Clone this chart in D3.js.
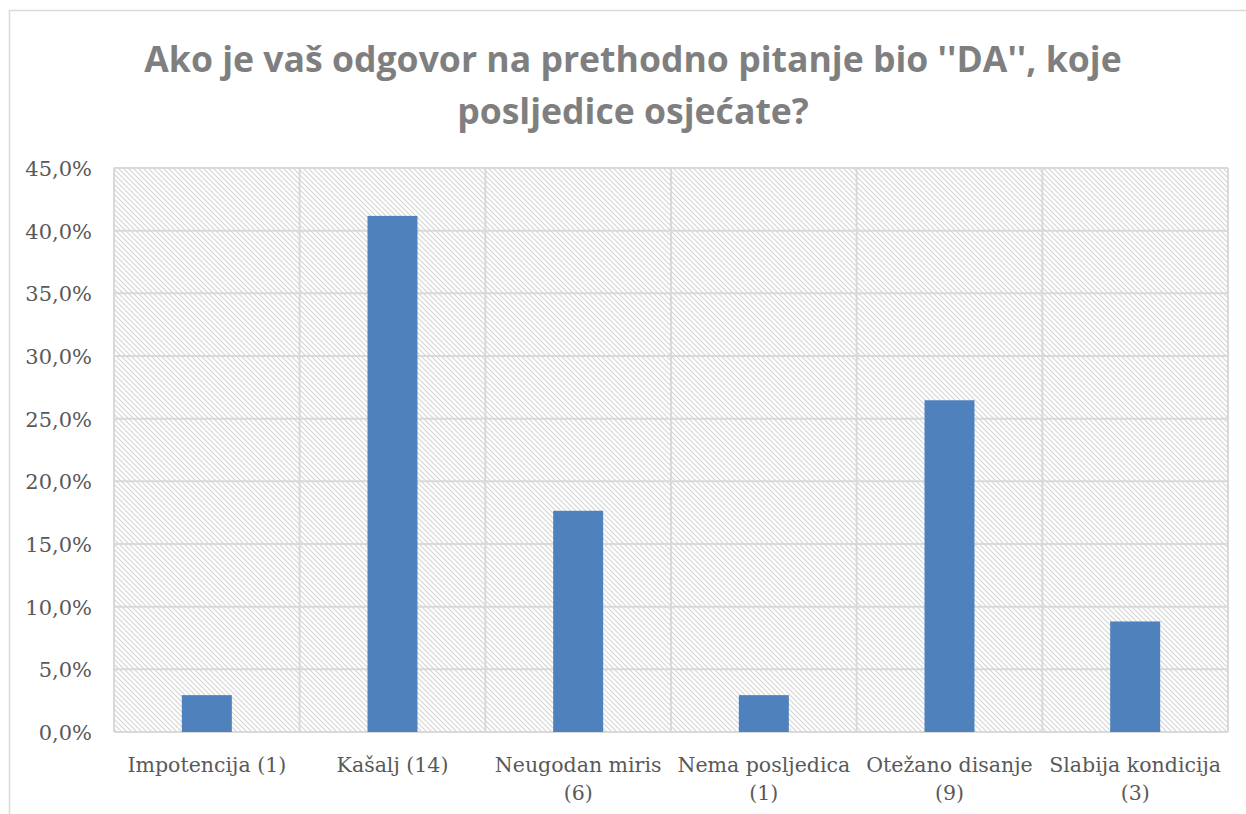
<!DOCTYPE html>
<html><head><meta charset="utf-8">
<script src="https://cdn.jsdelivr.net/npm/d3@7"></script>
<style>body{margin:0;background:#fff}svg{display:block}</style>
</head><body>
<svg id="c" width="1246" height="814"></svg>
<script>
const categories = [["Impotencija (1)"],["Kašalj (14)"],["Neugodan miris","(6)"],["Nema posljedica","(1)"],["Otežano disanje","(9)"],["Slabija kondicija","(3)"]];
const values = [2.94, 41.18, 17.65, 2.94, 26.47, 8.82];
const yTicks = [0,5,10,15,20,25,30,35,40,45];
const titleLines = ["Ako je vaš odgovor na prethodno pitanje bio ''DA'', koje","posljedice osjećate?"];

const svg = d3.select("#c");
const m = {left:114, right:1228, top:168, bottom:732};

const defs = svg.append("defs");
const pat = defs.append("pattern").attr("id","hatch").attr("patternUnits","userSpaceOnUse")
  .attr("width",5).attr("height",5);
pat.append("rect").attr("width",5).attr("height",5).attr("fill","#fff");
pat.append("path").attr("d","M-1,-1 L6,6 M-1,4 L1,6 M4,-1 L6,1").attr("stroke","#d4d4d4").attr("stroke-width",1.1);

svg.append("rect").attr("x",9.5).attr("y",10.5).attr("width",1250).attr("height",820)
  .attr("fill","#fff").attr("stroke","#d9d9d9").attr("stroke-width",1.5);

const x = d3.scaleBand().domain(d3.range(categories.length)).range([m.left,m.right]).paddingInner(0).paddingOuter(0);
const y = d3.scaleLinear().domain([0,45]).range([m.bottom,m.top]);

svg.append("rect").attr("x",m.left).attr("y",m.top).attr("width",m.right-m.left).attr("height",m.bottom-m.top)
  .attr("fill","url(#hatch)");

svg.append("g").selectAll("line").data(yTicks).join("line")
  .attr("x1",m.left).attr("x2",m.right).attr("y1",d=>y(d)).attr("y2",d=>y(d))
  .attr("stroke","#d9d9d9").attr("stroke-width",2);
const bounds = d3.range(categories.length+1).map(i=> i<categories.length ? x(i) : m.right);
svg.append("g").selectAll("line").data(bounds).join("line")
  .attr("x1",d=>d).attr("x2",d=>d).attr("y1",m.top).attr("y2",m.bottom)
  .attr("stroke","#d9d9d9").attr("stroke-width",2);

const bw = 50;
svg.append("g").selectAll("rect").data(values).join("rect")
  .attr("x",(d,i)=>x(i)+x.bandwidth()/2-bw/2).attr("width",bw)
  .attr("y",d=>y(d)).attr("height",d=>y(0)-y(d)).attr("fill","#4f81bd");

const fmt = d => d.toFixed(1).replace(".",",")+"%";
svg.append("g").selectAll("text").data(yTicks).join("text")
  .attr("x",92).attr("y",d=>y(d)+8).attr("text-anchor","end")
  .attr("font-family","'DejaVu Serif', serif").attr("font-size",21).attr("fill","#595959")
  .text(fmt);

const xl = svg.append("g").selectAll("text").data(categories).join("text")
  .attr("x",(d,i)=>x(i)+x.bandwidth()/2).attr("y",772).attr("text-anchor","middle")
  .attr("font-family","'DejaVu Serif', serif").attr("font-size",20.5).attr("fill","#595959");
xl.selectAll("tspan").data(d=>d).join("tspan")
  .attr("x",function(){return d3.select(this.parentNode).attr("x");})
  .attr("dy",(d,i)=>i===0?0:28).text(d=>d);

svg.append("g").selectAll("text").data(titleLines).join("text")
  .attr("x",633).attr("y",(d,i)=>72+i*52).attr("text-anchor","middle")
  .attr("font-family","'Open Sans', sans-serif").attr("font-weight","bold").attr("font-size",35.6).attr("fill","#7f7f7f")
  .text(d=>d);
</script>
</body></html>
